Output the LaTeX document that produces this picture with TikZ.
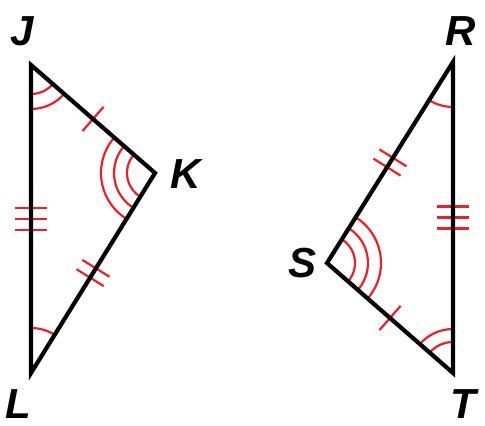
\documentclass[tikz,border=0pt]{standalone}
\usepackage{fontspec}
\setsansfont{Liberation Sans}
\usetikzlibrary{angles,decorations.markings}
\definecolor{markred}{RGB}{230,35,45}
\tikzset{
  side/.style={line width=4.2pt, line join=miter},
  lbl/.style={font=\fontsize{42}{44}\selectfont\sffamily\bfseries\itshape, inner sep=0pt},
  arcmark/.style={draw=markred, line width=2.2pt},
  tickline/.style={markred, line width=2.2pt},
  onetick/.style={postaction={decorate}, decoration={markings, mark=at position 0.5 with {
    \draw[tickline] (0,-16pt) -- (0,16pt);}}},
  twoticks/.style={postaction={decorate}, decoration={markings, mark=at position 0.5 with {
    \draw[tickline] (-5.5pt,-16pt) -- (-5.5pt,16pt);
    \draw[tickline] (5.5pt,-16pt) -- (5.5pt,16pt);}}},
  threeticks/.style={postaction={decorate}, decoration={markings, mark=at position 0.5 with {
    \draw[tickline] (-11pt,-16pt) -- (-11pt,16pt);
    \draw[tickline] (0,-16pt) -- (0,16pt);
    \draw[tickline] (11pt,-16pt) -- (11pt,16pt);}}}
}
\begin{document}
\begin{tikzpicture}[x=1pt,y=-1pt]
\useasboundingbox (0,0) rectangle (485,426);

% vertices
\coordinate (J) at (31,65);
\coordinate (K) at (155,173);
\coordinate (L) at (31,373);
\coordinate (R) at (453,62);
\coordinate (S) at (327,263);
\coordinate (T) at (453,373);

% angle marks
\pic[arcmark, angle radius=29pt] {angle=L--J--K};
\pic[arcmark, angle radius=44pt] {angle=L--J--K};
\pic[arcmark, angle radius=28pt] {angle=J--K--L};
\pic[arcmark, angle radius=41pt] {angle=J--K--L};
\pic[arcmark, angle radius=54pt] {angle=J--K--L};
\pic[arcmark, angle radius=45pt] {angle=K--L--J};
\pic[arcmark, angle radius=45pt] {angle=S--R--T};
\pic[arcmark, angle radius=28pt] {angle=T--S--R};
\pic[arcmark, angle radius=41pt] {angle=T--S--R};
\pic[arcmark, angle radius=54pt] {angle=T--S--R};
\pic[arcmark, angle radius=31pt] {angle=R--T--S};
\pic[arcmark, angle radius=44pt] {angle=R--T--S};

% tick marks
\path[onetick] (J) -- (K);
\path[twoticks] (K) -- (L);
\path[threeticks] (J) -- (L);
\path[twoticks] (R) -- (S);
\path[onetick] (S) -- (T);
\path[threeticks] (R) -- (T);

% triangles
\draw[side] (J) -- (K) -- (L) -- cycle;
\draw[side] (R) -- (S) -- (T) -- cycle;

% labels
\node[lbl] (labJ) at (22,31) {J};
\node[lbl] (labK) at (186,174) {K};
\node[lbl] (labL) at (18,404) {L};
\node[lbl] (labR) at (461,31) {R};
\node[lbl] (labS) at (303,263) {S};
\node[lbl] (labT) at (463,404) {T};

\end{tikzpicture}
\end{document}
